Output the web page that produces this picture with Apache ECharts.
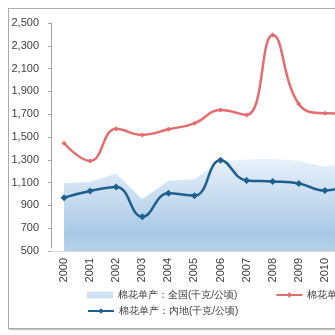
<!DOCTYPE html>
<html>
<head>
<meta charset="utf-8">
<script src="https://cdn.jsdelivr.net/npm/echarts@6/dist/echarts.min.js"></script>
<style>
  html, body { margin: 0; padding: 0; width: 335px; height: 335px; overflow: hidden; background: #fff; }
  #frame { position: absolute; left: 8px; top: 8px; width: 420px; height: 319px;
           border: 1px solid #ababab; box-shadow: 1px 1px 1px #c4c4c4; }
  #chart { position: absolute; left: 0; top: 0; width: 430px; height: 335px; }
</style>
</head>
<body>
<div id="frame"></div>
<div id="chart"></div>
<script>
// 棉花单产 (千克/公顷)
const years = ['2000','2001','2002','2003','2004','2005','2006','2007','2008','2009','2010','2011'];
const nationalYield = [1097, 1106, 1180, 953, 1117, 1129, 1290, 1302, 1306, 1292, 1240, 1290];
const xinjiangYield = [1445, 1290, 1572, 1518, 1568, 1620, 1737, 1693, 2395, 1789, 1708, 1705];
const inlandYield   = [968, 1026, 1062, 801, 1006, 985, 1296, 1118, 1110, 1092, 1030, 1090];
const yTicks = { min: 500, max: 2500, interval: 200 };

const nameNational = '棉花单产：全国(千克/公顷)';
const nameXinjiang = '棉花单产：新疆(千克/公顷)';
const nameInland   = '棉花单产：内地(千克/公顷)';

const textColor = '#404040';
const fontFamily = '"Liberation Sans", Arial, sans-serif';
const legendText = { fontSize: 10, color: textColor, fontFamily: fontFamily };

const chart = echarts.init(document.getElementById('chart'), null, { renderer: 'canvas' });
chart.setOption({
  animation: false,
  textStyle: { fontFamily: fontFamily },
  grid: { left: 51, right: 66, top: 23, bottom: 84, containLabel: false },
  legend: [
    {
      left: 87, top: 290, width: 400, padding: 0, itemGap: 38,
      itemWidth: 26, itemHeight: 7, textStyle: legendText,
      data: [
        { name: nameNational, icon: 'rect', itemStyle: { color: '#cfe2f3' } },
        { name: nameXinjiang }
      ]
    },
    {
      left: 87, top: 306, width: 300, padding: 0,
      itemWidth: 26, itemHeight: 7, textStyle: legendText,
      data: [{ name: nameInland }]
    }
  ],
  xAxis: {
    type: 'category',
    data: years,
    boundaryGap: true,
    axisLine: { show: true, lineStyle: { color: '#d9d9d9', width: 1 } },
    axisTick: { show: true, inside: true, length: 3, lineStyle: { color: '#e6e6e6' } },
    axisLabel: { rotate: 90, fontSize: 11, color: textColor, margin: 7, fontFamily: fontFamily }
  },
  yAxis: {
    type: 'value',
    min: yTicks.min, max: yTicks.max, interval: yTicks.interval,
    axisLine: { show: true, lineStyle: { color: '#a6a6a6', width: 1 } },
    axisTick: { show: true, length: 3, lineStyle: { color: '#a6a6a6' } },
    splitLine: { show: false },
    axisLabel: {
      fontSize: 11, color: textColor, margin: 12, fontFamily: fontFamily,
      formatter: v => v.toLocaleString('en-US')
    }
  },
  series: [
    {
      name: nameNational,
      type: 'line',
      data: nationalYield,
      symbol: 'none',
      smooth: false,
      z: 1,
      itemStyle: { color: '#cfe2f3' },
      lineStyle: { width: 0 },
      areaStyle: {
        opacity: 1,
        color: new echarts.graphic.LinearGradient(0, 0, 0, 1, [
          { offset: 0, color: '#e8f1fa' },
          { offset: 0.8, color: '#a9c9e6' },
          { offset: 1, color: '#b6d1ea' }
        ])
      }
    },
    {
      name: nameXinjiang,
      type: 'line',
      data: xinjiangYield,
      smooth: 0.45,
      symbol: 'diamond',
      symbolSize: 5,
      z: 3,
      itemStyle: { color: '#e46c6e' },
      lineStyle: { color: '#e46c6e', width: 2.5 }
    },
    {
      name: nameInland,
      type: 'line',
      data: inlandYield,
      smooth: 0.45,
      symbol: 'diamond',
      symbolSize: 7,
      z: 3,
      itemStyle: { color: '#1f5f8e' },
      lineStyle: { color: '#1f5f8e', width: 2.5 }
    }
  ]
});
</script>
</body>
</html>
